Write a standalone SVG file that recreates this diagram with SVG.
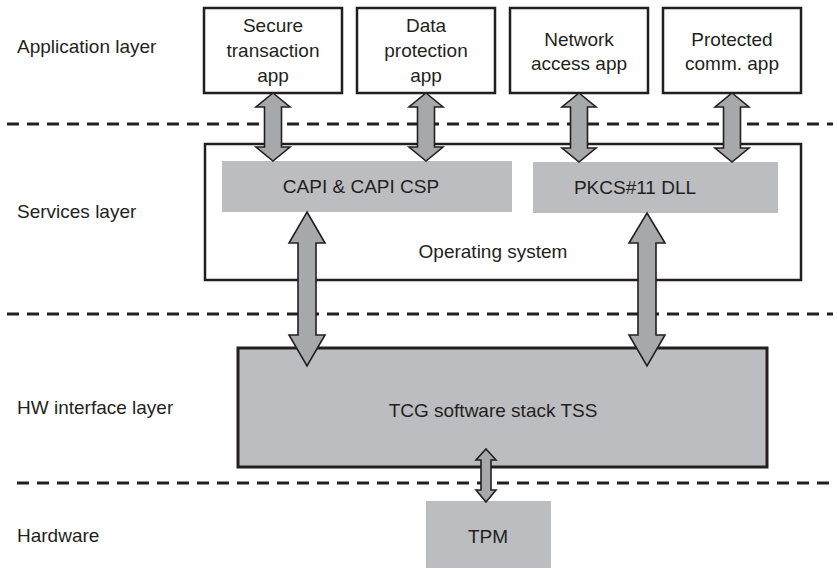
<svg xmlns="http://www.w3.org/2000/svg" width="837" height="570" viewBox="0 0 837 570">
  <style>
    text { font-family: "Liberation Sans", Arial, sans-serif; font-size: 19px; fill: #231f20; }
    .mid { text-anchor: middle; }
    .app { fill: #ffffff; stroke: #231f20; stroke-width: 2.5; }
    .os { fill: #ffffff; stroke: #231f20; stroke-width: 2.5; }
    .grey { fill: #bcbdc0; }
    .tss { fill: #bcbdc0; stroke: #231f20; stroke-width: 3; }
    .divider { stroke: #231f20; stroke-width: 3; stroke-dasharray: 12 8; fill: none; }
    .arrow { fill: #a7a8aa; stroke: #231f20; stroke-width: 1.6; stroke-linejoin: miter; }
  </style>

  <!-- layer dividers -->
  <g id="dividers">
    <line class="divider" x1="7" y1="124" x2="833" y2="124"/>
    <line class="divider" x1="7" y1="314" x2="833" y2="314"/>
    <line class="divider" x1="17" y1="483" x2="833" y2="483"/>
  </g>

  <!-- layer labels -->
  <g id="layer-labels">
    <text x="17" y="53">Application layer</text>
    <text x="17" y="218">Services layer</text>
    <text x="17" y="414">HW interface layer</text>
    <text x="17" y="542">Hardware</text>
  </g>

  <!-- application layer -->
  <g id="secure-transaction-app">
    <rect class="app" x="204" y="8" width="138" height="85"/>
    <text class="mid" x="273" y="32">Secure</text>
    <text class="mid" x="273" y="57">transaction</text>
    <text class="mid" x="273" y="82">app</text>
  </g>
  <g id="data-protection-app">
    <rect class="app" x="357" y="8" width="138" height="85"/>
    <text class="mid" x="426" y="32">Data</text>
    <text class="mid" x="426" y="57">protection</text>
    <text class="mid" x="426" y="82">app</text>
  </g>
  <g id="network-access-app">
    <rect class="app" x="510" y="8" width="138" height="85"/>
    <text class="mid" x="579" y="46">Network</text>
    <text class="mid" x="579" y="70">access app</text>
  </g>
  <g id="protected-comm-app">
    <rect class="app" x="663" y="8" width="138" height="85"/>
    <text class="mid" x="732" y="46">Protected</text>
    <text class="mid" x="732" y="70">comm. app</text>
  </g>

  <!-- services layer -->
  <g id="operating-system">
    <rect class="os" x="205" y="144" width="596" height="136"/>
    <text class="mid" x="493" y="258">Operating system</text>
  </g>
  <g id="capi-csp">
    <rect class="grey" x="222" y="161" width="290" height="51"/>
    <text class="mid" x="361" y="193">CAPI &amp; CAPI CSP</text>
  </g>
  <g id="pkcs11-dll">
    <rect class="grey" x="533" y="162" width="245" height="51"/>
    <text class="mid" x="635" y="194">PKCS#11 DLL</text>
  </g>

  <!-- HW interface layer -->
  <g id="tss">
    <rect class="tss" x="238" y="348" width="529" height="119"/>
    <text class="mid" x="493" y="417">TCG software stack TSS</text>
  </g>

  <!-- hardware -->
  <g id="tpm">
    <rect class="grey" x="426" y="501" width="125" height="67"/>
    <text class="mid" x="488" y="543">TPM</text>
  </g>

  <!-- two-headed block arrows -->
  <g id="connectors">
    <polygon class="arrow" points="273,93 290,107 281.5,107 281.5,147 290,147 273,161 256,147 264.5,147 264.5,107 256,107"/>
    <polygon class="arrow" points="426,93 443,107 434.5,107 434.5,147 443,147 426,161 409,147 417.5,147 417.5,107 409,107"/>
    <polygon class="arrow" points="579,93 596,107 587.5,107 587.5,148 596,148 579,162 562,148 570.5,148 570.5,107 562,107"/>
    <polygon class="arrow" points="732,93 749,107 740.5,107 740.5,148 749,148 732,162 715,148 723.5,148 723.5,107 715,107"/>
    <polygon class="arrow" points="307,212 325,243 316,243 316,335 325,335 307,366 289,335 298,335 298,243 289,243"/>
    <polygon class="arrow" points="647,213 665,243 656,243 656,335 665,335 647,366 629,335 638,335 638,243 629,243"/>
    <polygon class="arrow" points="486,449 496,460 491,460 491,490 496,490 486,502 476,490 481,490 481,460 476,460"/>
  </g>
</svg>
